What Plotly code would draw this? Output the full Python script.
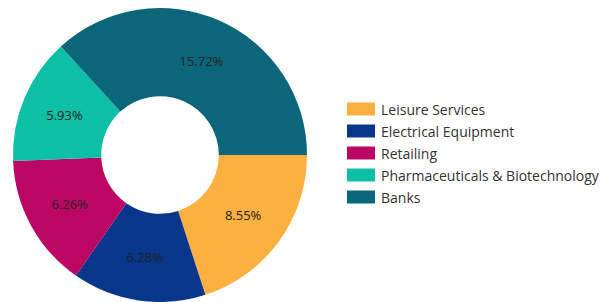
import plotly.graph_objects as go

labels = ["Leisure Services", "Electrical Equipment", "Retailing",
          "Pharmaceuticals & Biotechnology", "Banks"]
values = [8.55, 6.28, 6.26, 5.93, 15.72]
colors = ["#FBB040", "#08368B", "#BC0664", "#0CBFA5", "#0B6679"]

W, H = 613, 302
TOP = 8
FONT = "Open Sans"

fig = go.Figure()
fig.add_trace(go.Pie(
    labels=labels, values=values, hole=0.4, sort=False,
    direction="clockwise", rotation=90,
    marker=dict(colors=colors, line=dict(width=0)),
    texttemplate="%{value:.2f}%", textposition="inside",
    insidetextorientation="horizontal",
    textfont=dict(family=FONT, size=13, color="#222222"),
    domain=dict(x=[13 / W, 307 / W], y=[0, 1]),
    showlegend=False, hoverinfo="label+value",
))

# custom legend
shapes, annotations = [], []
ph = H - TOP
for i, (lab, col) in enumerate(zip(labels, colors)):
    yc = 109 + 22 * i - TOP
    shapes.append(dict(type="rect", xref="paper", yref="paper",
                       x0=347 / W, x1=375 / W,
                       y0=1 - (yc + 6.5) / ph, y1=1 - (yc - 6.5) / ph,
                       fillcolor=col, line=dict(width=0)))
    annotations.append(dict(x=381 / W, y=1 - yc / ph, xref="paper", yref="paper",
                            text=lab, showarrow=False, xanchor="left", yanchor="middle",
                            xshift=-2,
                            font=dict(family=FONT, size=14, color="#333333")))

fig.update_layout(
    width=W, height=H, margin=dict(l=0, r=0, t=TOP, b=0),
    paper_bgcolor="white", plot_bgcolor="white",
    shapes=shapes, annotations=annotations,
    font=dict(family=FONT),
)
fig.write_html("out.html", config={"displayModeBar": False},
               post_script="document.body.style.margin='0';")
